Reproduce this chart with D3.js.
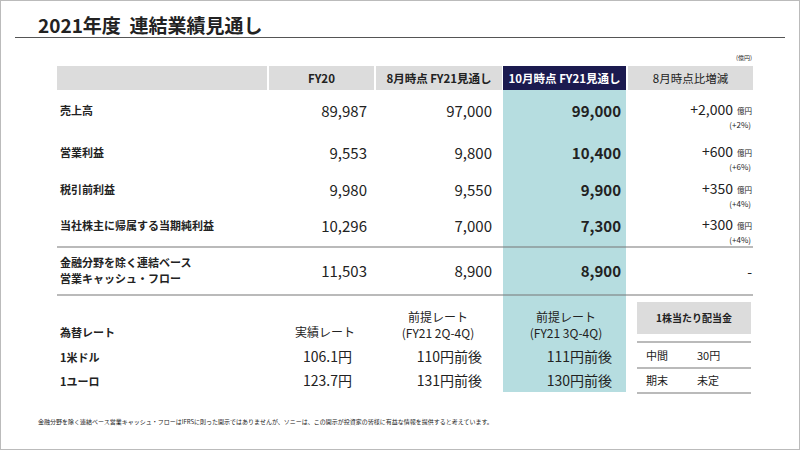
<!DOCTYPE html>
<html><head><meta charset="utf-8">
<script src="https://cdn.jsdelivr.net/npm/d3@7"></script>
<style>body{margin:0;background:#fff}text{font-family:"Noto Sans CJK JP","Noto Sans",sans-serif;fill:#222}</style>
</head><body><svg id="c" width="800" height="450"></svg>
<script>
const columns = ["FY20", "8月時点 FY21見通し", "10月時点 FY21見通し", "8月時点比増減"];
const rowLabels = [["売上高"], ["営業利益"], ["税引前利益"], ["当社株主に帰属する当期純利益"], ["金融分野を除く連結ベース", "営業キャッシュ・フロー"]];
const fy20 = [89987, 9553, 9980, 10296, 11503];
const augFc = [97000, 9800, 9550, 7000, 8900];
const octFc = [99000, 10400, 9900, 7300, 8900];
const diffPct = ["+2%", "+6%", "+4%", "+4%", null];
const rateLabels = ["1米ドル", "1ユーロ"];
const rateActual = ["106.1円", "123.7円"];
const rateAug = ["110円前後", "131円前後"];
const rateOct = ["111円前後", "130円前後"];
const dividend = [["中間", "30円"], ["期末", "未定"]];

const svg = d3.select("#c");
const fmt = d3.format(",");
svg.append("rect").attr("x", 0.5).attr("y", 0.5).attr("width", 799).attr("height", 449).attr("fill", "none").attr("stroke", "#bbb");
svg.append("text").attr("x", 38).attr("y", 33).attr("font-size", 19).attr("font-weight", "bold").attr("xml:space", "preserve").text("2021年度  連結業績見通し");
svg.append("line").attr("x1", 15).attr("x2", 785).attr("y1", 37.5).attr("y2", 37.5).attr("stroke", "#555").attr("stroke-width", 1.2);
svg.append("text").attr("x", 752).attr("y", 60).attr("font-size", 6).attr("text-anchor", "end").text("(億円)");

// column bands
const colX = [[57, 267], [269, 374], [376, 502], [503, 626], [628, 753]];
svg.append("rect").attr("x", 503).attr("y", 90).attr("width", 123).attr("height", 302).attr("fill", "#b6dde0");
colX.forEach(([a, b], i) => {
  svg.append("rect").attr("x", a).attr("y", 66).attr("width", b - a).attr("height", 24)
    .attr("fill", i === 3 ? "#1b1a4f" : "#dcdcdc");
  if (i > 0) svg.append("text").attr("x", (a + b) / 2).attr("y", 83).attr("text-anchor", "middle")
    .attr("font-size", 11.5).attr("font-weight", i === 4 ? "normal" : "bold")
    .style("fill", i === 3 ? "#fff" : "#222").text(columns[i - 1]);
});

const rowY = d3.scaleOrdinal().domain(d3.range(5)).range([117, 159, 196, 232, 277]);
rowLabels.forEach((lab, i) => {
  const y = rowY(i);
  lab.forEach((l, k) => svg.append("text").attr("x", 60).attr("y", y - (lab.length - 1) * 8 + k * 16 - 2)
    .attr("font-size", 11).attr("font-weight", "bold").text(l));
  svg.append("text").attr("x", 367).attr("y", y).attr("text-anchor", "end").attr("font-size", 15).text(fmt(fy20[i]));
  svg.append("text").attr("x", 492).attr("y", y).attr("text-anchor", "end").attr("font-size", 15).text(fmt(augFc[i]));
  svg.append("text").attr("x", 621).attr("y", y).attr("text-anchor", "end").attr("font-size", 15).attr("font-weight", "bold").text(fmt(octFc[i]));
  if (diffPct[i]) {
    const d = octFc[i] - augFc[i];
    svg.append("text").attr("x", 733).attr("y", y - 2).attr("text-anchor", "end").attr("font-size", 14).text("+" + fmt(d));
    svg.append("text").attr("x", 737).attr("y", y - 3).attr("font-size", 7.5).text("億円");
    svg.append("text").attr("x", 751).attr("y", y + 11).attr("text-anchor", "end").attr("font-size", 8).text("(" + diffPct[i] + ")");
  } else {
    svg.append("text").attr("x", 752).attr("y", y).attr("text-anchor", "end").attr("font-size", 14).text("-");
  }
});
[247, 295].forEach(y => svg.append("line").attr("x1", 57).attr("x2", 753).attr("y1", y).attr("y2", y).attr("stroke", "#777").attr("stroke-width", 1.2));

// exchange rates
svg.append("text").attr("x", 60).attr("y", 337).attr("font-size", 11).attr("font-weight", "bold").text("為替レート");
svg.append("text").attr("x", 355).attr("y", 337).attr("text-anchor", "end").attr("font-size", 12).text("実績レート");
[[438, "(FY21 2Q-4Q)"], [566, "(FY21 3Q-4Q)"]].forEach(([x, t]) => {
  svg.append("text").attr("x", x).attr("y", 322).attr("text-anchor", "middle").attr("font-size", 12).text("前提レート");
  svg.append("text").attr("x", x).attr("y", 338).attr("text-anchor", "middle").attr("font-size", 12).text(t);
});
rateLabels.forEach((l, i) => {
  const y = 362 + i * 24;
  svg.append("text").attr("x", 60).attr("y", y).attr("font-size", 11).attr("font-weight", "bold").text(l);
  svg.append("text").attr("x", 352).attr("y", y).attr("text-anchor", "end").attr("font-size", 14).text(rateActual[i]);
  svg.append("text").attr("x", 482).attr("y", y).attr("text-anchor", "end").attr("font-size", 14).text(rateAug[i]);
  svg.append("text").attr("x", 612).attr("y", y).attr("text-anchor", "end").attr("font-size", 14).text(rateOct[i]);
});

// dividend box
svg.append("rect").attr("x", 637).attr("y", 302).attr("width", 114).attr("height", 32).attr("fill", "#dcdcdc");
svg.append("text").attr("x", 694).attr("y", 322).attr("text-anchor", "middle").attr("font-size", 10).attr("font-weight", "bold").text("1株当たり配当金");
[342, 368, 393].forEach(y => svg.append("line").attr("x1", 637).attr("x2", 751).attr("y1", y).attr("y2", y).attr("stroke", "#777").attr("stroke-width", 1.2));
dividend.forEach(([a, b], i) => {
  const y = 360 + i * 25;
  svg.append("text").attr("x", 646).attr("y", y).attr("font-size", 11).text(a);
  svg.append("text").attr("x", 697).attr("y", y).attr("font-size", 11).text(b);
});

svg.append("text").attr("x", 38).attr("y", 424).attr("font-size", 6)
  .text("金融分野を除く連結ベース営業キャッシュ・フローはIFRSに則った開示ではありませんが、ソニーは、この開示が投資家の皆様に有益な情報を提供すると考えています。");
</script></body></html>
